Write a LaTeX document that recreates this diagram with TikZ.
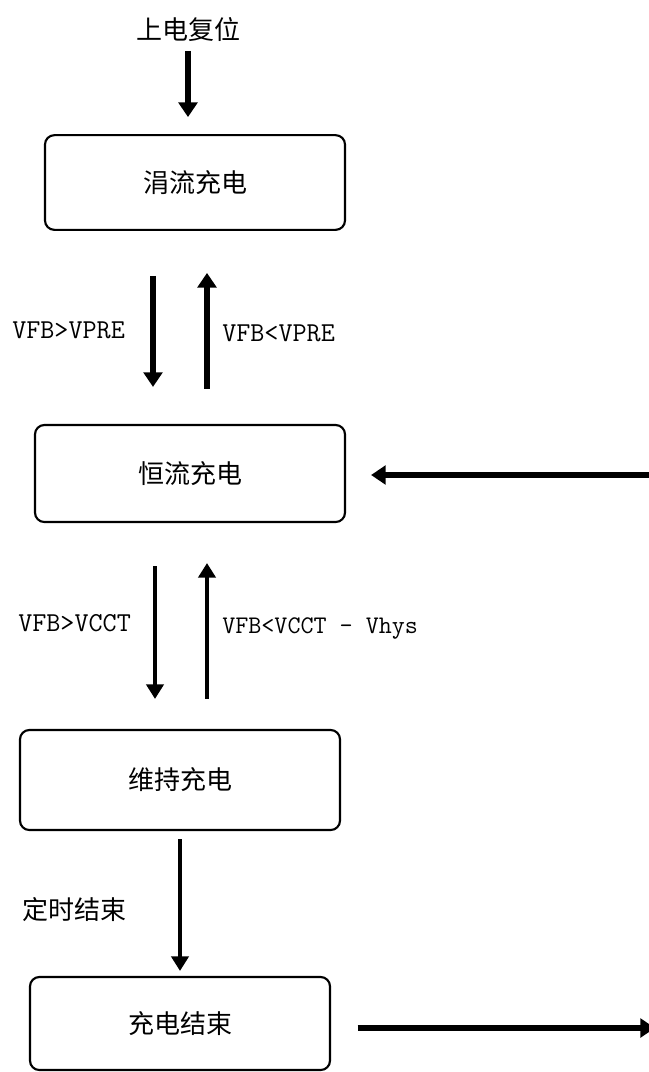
\documentclass[tikz,border=0pt]{standalone}
\usepackage{fontspec}
\newfontfamily\cjk{Noto Sans CJK SC}
\usetikzlibrary{arrows.meta}
\begin{document}
\begin{tikzpicture}[x=0.75pt, y=-0.75pt,
	state/.style={draw=black, line width=1.6pt, rounded corners=7pt, inner sep=0pt, font=\cjk\fontsize{19.5}{22}\selectfont},
	cond/.style={anchor=west, inner sep=0pt, font=\ttfamily\fontsize{20.5}{23}\selectfont},
	fat/.style={line width=5pt, -{Triangle[width=14pt,length=11pt]}},
	slim/.style={line width=2.6pt, -{Triangle[width=13pt,length=11pt]}}]
	\useasboundingbox (0, 0) rectangle (649, 1072);
	
	\node[font=\cjk\fontsize{19.5}{22}\selectfont] (reset) at (188, 30) {上电复位};
	\node[state, minimum width=225pt, minimum height=71pt] (trickle) at (195, 182.5) {涓流充电};
	\node[state, minimum width=232.5pt, minimum height=72.75pt] (cc) at (190, 473.5) {恒流充电};
	\node[state, minimum width=240pt, minimum height=75pt] (maintain) at (180, 780) {维持充电};
	\node[state, minimum width=225pt, minimum height=69.75pt] (done) at (180, 1023.5) {充电结束};
	
	\node[cond] (preup) at (12, 330) {VFB>VPRE};
	\node[cond] (predn) at (222, 333) {VFB<VPRE};
	\node[cond] (cctup) at (18, 623) {VFB>VCCT};
	\node[cond, font=\ttfamily\fontsize{19}{22}\selectfont] (cctdn) at (222, 628) {VFB<VCCT - Vhys};
	\node[cond, font=\cjk\fontsize{19.5}{22}\selectfont] (timer) at (22, 910) {定时结束};
	
	\coordinate (dnA) at (153, 0);
	\coordinate (upA) at (207, 0);
	\coordinate (dnB) at (155, 0);
	\coordinate (upB) at (207, 0);
	\coordinate (feed) at (649, 475);
	\coordinate (exit) at (655, 1028);
	
	\draw[fat, shorten <=3pt, shorten >=12.75pt] (reset.south) -- (reset.south |- trickle.north);
	\draw[fat, shorten <=33.75pt, shorten >=27.75pt] (trickle.south -| dnA) -- (cc.north -| dnA);
	\draw[fat, shorten <=26.25pt, shorten >=31.5pt] (cc.north -| upA) -- (trickle.south -| upA);
	\draw[fat, shorten >=18.75pt] (feed) -- (feed -| cc.east);
	\draw[slim, shorten <=32.25pt, shorten >=22.5pt] (cc.south -| dnB) -- (maintain.north -| dnB);
	\draw[slim, shorten <=22.5pt, shorten >=30pt] (maintain.north -| upB) -- (cc.south -| upB);
	\draw[slim, shorten <=6pt, shorten >=3.75pt] (maintain.south) -- (done.north);
	\draw[fat, shorten <=20pt] (exit -| done.east) -- (exit);
\end{tikzpicture}
\end{document}
